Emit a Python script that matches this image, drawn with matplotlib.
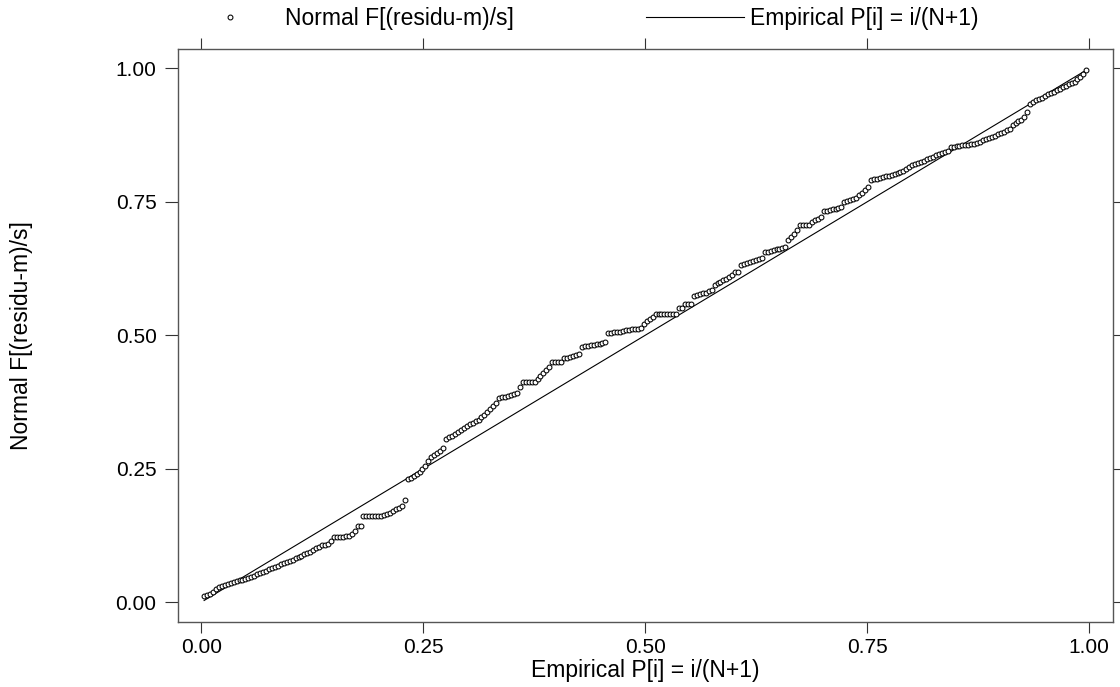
import numpy as np
import matplotlib
matplotlib.use("Agg")
import matplotlib.pyplot as plt
from matplotlib.lines import Line2D

# normal CDF of standardised residuals, sorted
normal_f = [
    0.012, 0.013, 0.016, 0.020, 0.024, 0.028, 0.031, 0.033, 0.035, 0.036,
    0.038, 0.040, 0.041, 0.042, 0.044, 0.046, 0.048, 0.050, 0.052, 0.055,
    0.057, 0.059, 0.062, 0.064, 0.066, 0.068, 0.071, 0.073, 0.075, 0.077,
    0.080, 0.082, 0.084, 0.087, 0.090, 0.092, 0.095, 0.098, 0.101, 0.104,
    0.107, 0.108, 0.110, 0.115, 0.122, 0.122, 0.123, 0.123, 0.124, 0.125,
    0.127, 0.134, 0.142, 0.143, 0.161, 0.161, 0.161, 0.161, 0.161, 0.162,
    0.162, 0.163, 0.165, 0.168, 0.171, 0.174, 0.177, 0.180, 0.191, 0.230,
    0.233, 0.236, 0.240, 0.243, 0.249, 0.256, 0.264, 0.272, 0.276, 0.280,
    0.284, 0.288, 0.305, 0.309, 0.312, 0.316, 0.319, 0.323, 0.327, 0.330,
    0.333, 0.336, 0.339, 0.342, 0.346, 0.351, 0.357, 0.362, 0.368, 0.373,
    0.382, 0.384, 0.385, 0.387, 0.388, 0.390, 0.391, 0.404, 0.412, 0.412,
    0.412, 0.412, 0.413, 0.419, 0.424, 0.430, 0.435, 0.440, 0.449, 0.449,
    0.449, 0.450, 0.457, 0.458, 0.460, 0.461, 0.463, 0.464, 0.478, 0.479,
    0.480, 0.481, 0.482, 0.483, 0.484, 0.486, 0.487, 0.504, 0.505, 0.506,
    0.506, 0.507, 0.508, 0.509, 0.510, 0.511, 0.511, 0.512, 0.513, 0.522,
    0.526, 0.530, 0.534, 0.539, 0.539, 0.539, 0.539, 0.539, 0.539, 0.540,
    0.540, 0.551, 0.551, 0.558, 0.558, 0.558, 0.573, 0.575, 0.577, 0.579,
    0.580, 0.582, 0.584, 0.594, 0.597, 0.600, 0.603, 0.606, 0.609, 0.612,
    0.618, 0.618, 0.631, 0.633, 0.635, 0.637, 0.639, 0.641, 0.642, 0.644,
    0.655, 0.656, 0.658, 0.659, 0.661, 0.662, 0.664, 0.665, 0.678, 0.684,
    0.690, 0.697, 0.706, 0.706, 0.706, 0.706, 0.712, 0.715, 0.718, 0.721,
    0.732, 0.733, 0.735, 0.736, 0.737, 0.739, 0.740, 0.749, 0.751, 0.753,
    0.755, 0.757, 0.762, 0.767, 0.772, 0.777, 0.790, 0.792, 0.793, 0.795,
    0.796, 0.798, 0.799, 0.801, 0.802, 0.804, 0.805, 0.808, 0.812, 0.815,
    0.818, 0.820, 0.823, 0.825, 0.827, 0.830, 0.832, 0.834, 0.837, 0.839,
    0.841, 0.844, 0.846, 0.852, 0.853, 0.854, 0.855, 0.856, 0.857, 0.857,
    0.858, 0.859, 0.860, 0.861, 0.865, 0.867, 0.870, 0.872, 0.874, 0.877,
    0.879, 0.881, 0.884, 0.886, 0.893, 0.897, 0.901, 0.904, 0.908, 0.918,
    0.934, 0.937, 0.940, 0.942, 0.945, 0.948, 0.951, 0.953, 0.956, 0.959,
    0.962, 0.964, 0.967, 0.970, 0.973, 0.975, 0.979, 0.984, 0.990, 0.997,
]
ticks = [0.0, 0.25, 0.5, 0.75, 1.0]
tick_labels = ["0.00", "0.25", "0.50", "0.75", "1.00"]

lab_normal = "Normal F[(residu-m)/s]"
lab_emp = "Empirical P[i] = i/(N+1)"


def main():
    plt.rcParams["font.family"] = ["Liberation Sans", "DejaVu Sans"]
    fs = 15      # tick labels
    fs_lab = 16.5  # axis titles and legend

    n = len(normal_f)
    # empirical plotting positions i/(N+1)
    emp = np.arange(1, n + 1) / (n + 1)

    fig = plt.figure(figsize=(11.2, 6.87), dpi=100)
    ax = fig.add_axes([0.159, 0.0946, 0.835, 0.834])

    ax.plot(emp, emp, color="black", lw=0.8, zorder=2)
    ax.plot(emp, normal_f, ls="none", marker="o", ms=3.5, mfc="white",
            mec="black", mew=0.75, zorder=3)

    ax.set_xlim(-0.026, 1.027)
    ax.set_ylim(-0.037, 1.036)
    ax.set_xticks(ticks)
    ax.set_xticklabels(tick_labels)
    ax.set_yticks(ticks)
    ax.set_yticklabels(tick_labels)

    for s in ax.spines.values():
        s.set_color("#555555")
        s.set_linewidth(1.0)
    ax.tick_params(axis="x", direction="out", length=8, width=0.8,
                   color="#333333", labelsize=fs, pad=3.5,
                   top=True, labeltop=False)
    ax.tick_params(axis="y", direction="out", length=9.5, width=0.8,
                   color="#333333", labelsize=fs, pad=6,
                   right=True, labelright=False)

    ax.set_xlabel(lab_emp, fontsize=fs_lab, labelpad=1.5)
    ax.set_ylabel(lab_normal, fontsize=fs_lab)
    ax.yaxis.set_label_coords(-0.155, 0.5)

    handles = [
        Line2D([], [], ls="none", marker="o", ms=3.5, mfc="white",
               mec="black", mew=0.75),
        Line2D([], [], color="black", lw=0.8),
    ]
    fig.legend(handles, [lab_normal, lab_emp], loc="upper left",
               bbox_to_anchor=(181 / 1120, 0.99), ncol=2, frameon=False,
               fontsize=fs_lab, handlelength=4.25, handletextpad=0.27,
               columnspacing=5.8, borderpad=0, borderaxespad=0)

    plt.savefig("out.png", dpi=100)


if __name__ == "__main__":
    main()
